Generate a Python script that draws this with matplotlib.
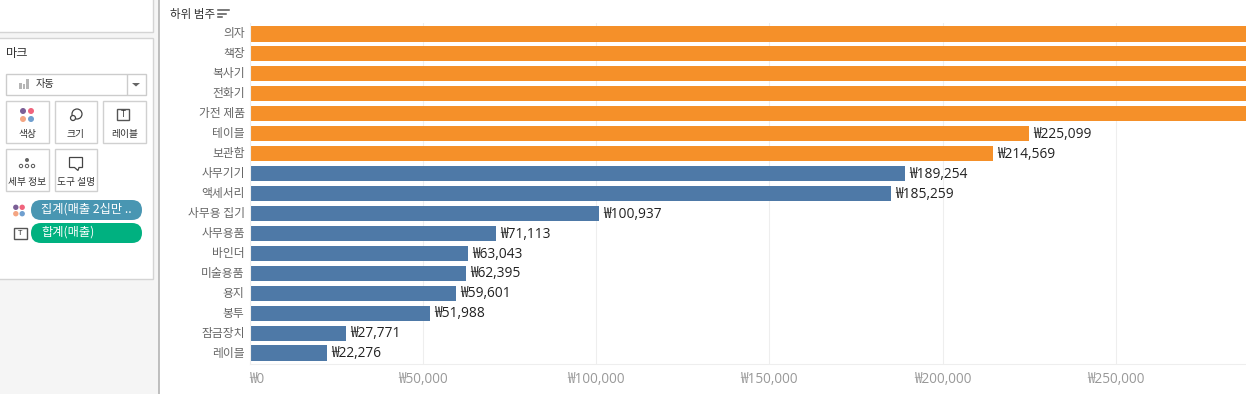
import matplotlib
matplotlib.use('Agg')
import matplotlib.pyplot as plt
from matplotlib.patches import Rectangle, FancyBboxPatch, Circle, Polygon

plt.rcParams['font.family'] = ['Noto Sans CJK KR', 'DejaVu Sans']

categories = ['의자', '책장', '복사기', '전화기', '가전 제품', '테이블', '보관함', '사무기기', '액세서리',
              '사무용 집기', '사무용품', '바인더', '미술용품', '용지', '봉투', '잠금장치', '레이블']
# the first five run past the edge of the view, their values are guesses
sales = [500000, 480000, 460000, 440000, 420000, 225099, 214569, 189254, 185259,
         100937, 71113, 63043, 62395, 59601, 51988, 27771, 22276]
over_200k = [True] * 7 + [False] * 10
x_ticks = [0, 50000, 100000, 150000, 200000, 250000]

ORANGE = '#f59029'
BLUE = '#4e79a7'
W, H = 1246, 394
NUM_FONT = ['Open Sans', 'Noto Sans CJK KR', 'DejaVu Sans']

fig = plt.figure(figsize=(W / 100, H / 100), dpi=100)

# background layer in pixel coordinates, for the side panel
bg = fig.add_axes([0, 0, 1, 1])
bg.set_xlim(0, W)
bg.set_ylim(H, 0)
bg.axis('off')


def box(x, y, w, h, fc='white', ec='#d4d4d4', lw=1):
    bg.add_patch(Rectangle((x, y), w, h, fc=fc, ec=ec, lw=lw))


def label(x, y, s, size=7, color='#333333', ha='center'):
    bg.text(x, y, s, fontsize=size, color=color, ha=ha, va='center')


def dots(cx, cy, d, r):
    for dx, dy, c in [(-d, -d, '#7b5f96'), (d, -d, '#f0637c'), (-d, d, '#f4a582'), (d, d, '#6f9fcf')]:
        bg.add_patch(Circle((cx + dx, cy + dy), r, fc=c, ec='none'))


def pill(x, y, w, h, color, s):
    bg.add_patch(FancyBboxPatch((x, y), w, h, boxstyle=f'round,pad=0,rounding_size={h / 2}',
                                fc=color, ec='none'))
    label(x + 10, y + h / 2 - 1, s, size=8.8, color='white', ha='left')


box(0, 0, W, H, fc='white', ec='none')
box(0, 0, 159, H, fc='#f5f5f5', ec='none')
bg.plot([159, 159], [0, H], color='#b4b4b4', lw=1.2)
box(-2, -2, 154.5, 34)
box(-2, 38, 154.5, 240.5)
label(6, 53.5, '마크', size=8.8, ha='left')

box(6, 74, 139.5, 20.5, ec='#cccccc')
bg.plot([127, 127], [75, 94], color='#cccccc', lw=1)
bg.add_patch(Polygon([[132, 83], [140, 83], [136, 86.5]], fc='#666666', ec='none'))
for bx, bh in [(20, 6), (23.5, 5), (27, 10)]:
    bg.add_patch(Rectangle((bx - 1, 88.5 - bh), 2.5, bh, fc='#b5b5b5', ec='none'))
label(36, 84, '자동', size=7.3, ha='left')

for x, y, w, s in [(6, 101, 42.5, '색상'), (55, 101, 41.5, '크기'), (103, 101, 42.5, '레이블'),
                   (6, 149, 42.5, '세부 정보'), (55, 149, 41.5, '도구 설명')]:
    box(x, y, w, 41.5, ec='#d0d0d0')
    label(x + w / 2, y + 32.5, s, size=7)

dots(27, 115, 4, 3)
bg.add_patch(Circle((77, 114), 5, fc='white', ec='#444444', lw=0.9))
bg.add_patch(Circle((73, 118), 2.5, fc='white', ec='#444444', lw=0.9))
box(117, 109, 12, 11, ec='#555555')
label(123, 114.5, 'T', size=6, color='#333333')
bg.add_patch(Circle((27, 160), 2, fc='#666666', ec='none'))
for cx in [21, 27, 33]:
    bg.add_patch(Circle((cx, 166), 1.7, fc='white', ec='#555555', lw=0.7))
bg.add_patch(Polygon([[69.5, 157.5], [82.5, 157.5], [82.5, 167.5], [79, 167.5], [78, 170.5], [74.5, 167.5], [69.5, 167.5]],
                     fc='white', ec='#444444', lw=0.9))

dots(19, 210.5, 3.2, 2.7)
box(13.5, 227.5, 13, 11, ec='#555555')
label(20, 233, 'T', size=5.5)
pill(31, 200, 111, 20, '#4996b2', '집계(매출 2십만 ..')
pill(31, 223, 111, 20, '#00b180', '합계(매출)')

label(170, 14.5, '하위 범주', size=8.3, ha='left')
for fy, fw in [(10, 11), (13.5, 8), (17, 4)]:
    bg.plot([218, 218 + fw], [fy, fy], color='#555555', lw=1.1)

# chart
ax = fig.add_axes([249.5 / W, 1 - 364 / H, 996.5 / W, 341 / H])
ax.patch.set_alpha(0)
y_pos = list(range(len(categories)))
ax.barh(y_pos, sales, height=0.76, color=[ORANGE if o else BLUE for o in over_200k], zorder=2)
ax.set_xlim(0, 996.5 / 0.003465)
ax.set_ylim(len(categories) - 0.45, -0.55)

ax.set_yticks(y_pos)
ax.set_yticklabels(categories, fontsize=8.5, color='#666666', va='center')
ax.tick_params(axis='y', length=0, pad=3.5)
ax.set_xticks(x_ticks)
ax.set_xticklabels([f'₩{v:,}' for v in x_ticks], fontsize=9.8, color='#999999', family=NUM_FONT)
ax.get_xticklabels()[0].set_ha('left')
ax.tick_params(axis='x', length=0, pad=6)
ax.grid(axis='x', color='#eeeeee', lw=0.8, zorder=0)
for s in ['top', 'right']:
    ax.spines[s].set_visible(False)
ax.spines['left'].set_color('#eeeeee')
ax.spines['bottom'].set_color('#eeeeee')

for i, v in enumerate(sales):
    if v < ax.get_xlim()[1]:
        ax.annotate(f'₩{v:,}', (v, i), xytext=(3, -0.5), textcoords='offset points',
                    fontsize=9.9, color='#222222', va='center', family=NUM_FONT)

fig.savefig('out.png', dpi=100)
